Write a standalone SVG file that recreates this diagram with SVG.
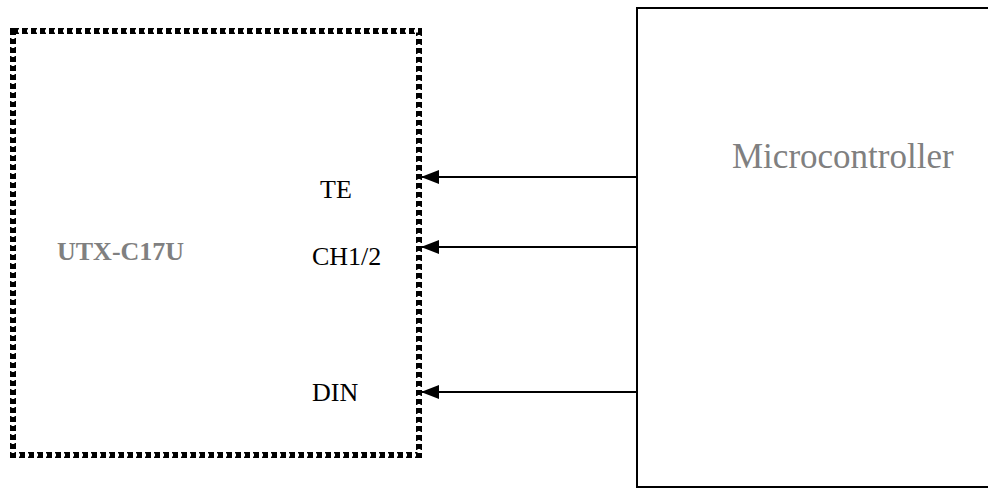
<svg xmlns="http://www.w3.org/2000/svg" width="988" height="490" viewBox="0 0 988 490">
<defs>
<style>
.t{font-family:"Liberation Serif","Times New Roman",serif;font-size:26px;fill:#000}
.g{font-family:"Liberation Serif","Times New Roman",serif;fill:#808080}
.c{stroke:#000;stroke-width:2;fill:none}
</style>
<marker id="ah" markerWidth="18" markerHeight="14" refX="18" refY="7" orient="auto" markerUnits="userSpaceOnUse">
<path d="M0,0 L18,7 L0,14 Z" fill="#000"/>
</marker>
</defs>
<rect width="988" height="490" fill="#fff"/>
<g id="utx">
<rect x="13" y="31" width="406" height="424" fill="#fff" stroke="#000" stroke-width="6" stroke-dasharray="6 3"/>
<rect x="13" y="31" width="406" height="424" fill="none" stroke="#fff" stroke-width="3" stroke-dasharray="4 5" stroke-dashoffset="-5"/>
<text class="g" x="57" y="260" font-size="26" font-weight="bold">UTX-C17U</text>
<text class="t" x="320" y="198">TE</text>
<text class="t" x="312" y="265">CH1/2</text>
<text class="t" x="312" y="401">DIN</text>
</g>
<g id="mcu">
<rect x="637" y="8" width="360" height="479" fill="none" stroke="#000" stroke-width="2"/>
<text class="g" x="732" y="168" font-size="35">Microcontroller</text>
</g>
<g id="connectors">
<line class="c" x1="637" y1="177" x2="421" y2="177" marker-end="url(#ah)"/>
<line class="c" x1="637" y1="247" x2="421" y2="247" marker-end="url(#ah)"/>
<line class="c" x1="637" y1="392" x2="421" y2="392" marker-end="url(#ah)"/>
</g>
</svg>
